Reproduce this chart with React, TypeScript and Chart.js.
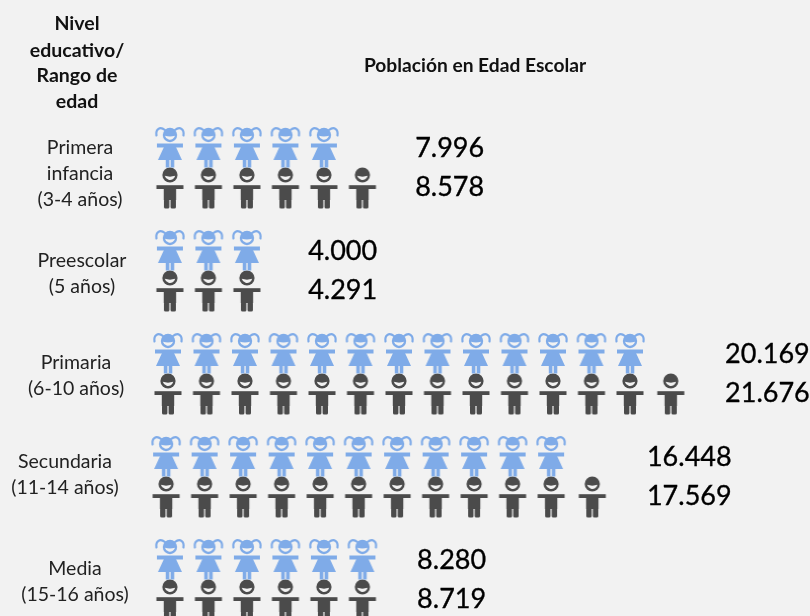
import React, { useEffect, useRef } from "react";
import { Chart, registerables } from "chart.js";

Chart.register(...registerables);

const categories = [
  ["Primera", "infancia", "(3-4 años)"],
  ["Preescolar", "(5 años)"],
  ["Primaria", "(6-10 años)"],
  ["Secundaria", "(11-14 años)"],
  ["Media", "(15-16 años)"],
];
const girls = [7996, 4000, 20169, 16448, 8280];
const boys = [8578, 4291, 21676, 17569, 8719];
const girlLabels = ["7.996", "4.000", "20.169", "16.448", "8.280"];
const boyLabels = ["8.578", "4.291", "21.676", "17.569", "8.719"];
const peoplePerIcon = 1500;

const headerLines = ["Nivel", "educativo/", "Rango de", "edad"];
const chartTitle = "Población en Edad Escolar";

// layout, in scale units
const rowShift = [0.05, 0.05, 0, -0.05, 0.05];
const lastBoyGap = [0, 0, 0.06, 0.07, 0];
const labelColumn = [6.42, 3.64, 14.47, 12.44, 6.47];
const boyRowOffset = 0.398;
const iconStep = 38.5;
const rowStep = 103;
const categoryCenters = [80, 82, 76, 65, 75];
const categoryFirstLine = [148, 261, 363, 462, 569];

const GIRL = "#7fabe8";
const BOY = "#4b4b4b";
const BG = "#f2f2f2";
const FONT = "Lato, Carlito, sans-serif";

function smile(g: CanvasRenderingContext2D, cy: number, r: number) {
  g.fillStyle = BG;
  g.beginPath();
  g.arc(0, cy, r, 0.25, Math.PI - 0.25);
  g.quadraticCurveTo(0, cy + r * 0.55, r * Math.cos(0.25), cy + r * Math.sin(0.25));
  g.closePath();
  g.fill();
}

function girlIcon() {
  const c = document.createElement("canvas");
  c.width = 34;
  c.height = 44;
  const g = c.getContext("2d")!;
  g.translate(17, 22);
  g.fillStyle = GIRL;
  g.strokeStyle = GIRL;
  // head
  g.beginPath();
  g.arc(0, -12, 7.2, 0, Math.PI * 2);
  g.fill();
  // pigtails
  g.lineWidth = 2.2;
  g.lineCap = "round";
  g.beginPath();
  g.moveTo(-5, -17);
  g.bezierCurveTo(-10, -21, -14.5, -18, -13.5, -11.5);
  g.moveTo(5, -17);
  g.bezierCurveTo(10, -21, 14.5, -18, 13.5, -11.5);
  g.stroke();
  smile(g, -12.5, 5.2);
  g.fillStyle = GIRL;
  // arms
  g.fillRect(-13, -3.5, 26, 4);
  // dress
  g.beginPath();
  g.moveTo(-6, 0);
  g.lineTo(6, 0);
  g.lineTo(12, 13);
  g.lineTo(-12, 13);
  g.closePath();
  g.fill();
  // legs
  g.fillRect(-4.2, 13, 3.6, 7.5);
  g.fillRect(0.7, 13, 3.6, 7.5);
  return c;
}

function boyIcon() {
  const c = document.createElement("canvas");
  c.width = 34;
  c.height = 46;
  const g = c.getContext("2d")!;
  g.translate(17, 23);
  g.fillStyle = BOY;
  // head
  g.beginPath();
  g.arc(0, -13, 7.6, 0, Math.PI * 2);
  g.fill();
  smile(g, -13.5, 5.4);
  g.fillStyle = BOY;
  // arms
  g.fillRect(-13.5, -2.8, 27, 3.8);
  // torso
  g.fillRect(-6.2, 0, 12.4, 12);
  // legs
  g.beginPath();
  g.roundRect(-6, 11, 5.4, 9.5, 1.5);
  g.roundRect(0.6, 11, 5.4, 9.5, 1.5);
  g.fill();
  return c;
}

function iconPoints(values: number[], isBoy: boolean) {
  const pts: { x: number; y: number }[] = [];
  values.forEach((v, row) => {
    const n = Math.round(v / peoplePerIcon);
    for (let i = 0; i < n; i++) {
      const extra = isBoy && i === n - 1 ? lastBoyGap[row] : 0;
      pts.push({ x: i + rowShift[row] + extra, y: row + (isBoy ? boyRowOffset : 0) });
    }
  });
  return pts;
}

const textPlugin = {
  id: "isotypeText",
  afterDatasetsDraw(chart: any) {
    const { ctx, scales } = chart;
    const { x, y } = scales;
    ctx.save();
    ctx.textBaseline = "middle";
    ctx.textAlign = "center";
    ctx.fillStyle = "#111";
    ctx.font = `bold 19.5px ${FONT}`;
    headerLines.forEach((t, i) => ctx.fillText(t, 77, [24, 51, 76, 102][i]));
    ctx.font = `bold 19.2px ${FONT}`;
    ctx.fillText(chartTitle, 475, 66);

    ctx.font = `19.5px ${FONT}`;
    ctx.fillStyle = "#222";
    categories.forEach((lines, r) => {
      lines.forEach((t, i) => ctx.fillText(t, categoryCenters[r], categoryFirstLine[r] + i * 25.7));
    });

    ctx.textAlign = "left";
    ctx.fillStyle = "#000";
    ctx.strokeStyle = "#000";
    ctx.lineWidth = 0.35;
    ctx.font = `27px ${FONT}`;
    const put = (t: string, px: number, py: number) => {
      ctx.fillText(t, px, py);
      ctx.strokeText(t, px, py);
    };
    labelColumn.forEach((col, r) => {
      const px = x.getPixelForValue(col);
      put(girlLabels[r], px, y.getPixelForValue(r) + 1);
      put(boyLabels[r], px, y.getPixelForValue(r + boyRowOffset) - 1);
    });
    ctx.restore();
  },
};

export default function App() {
  const ref = useRef<HTMLCanvasElement>(null);
  useEffect(() => {
    document.body.style.margin = "0";
    document.body.style.background = BG;
    const chart = new Chart(ref.current!, {
      type: "scatter",
      data: {
        datasets: [
          {
            label: "Niñas",
            data: iconPoints(girls, false),
            pointStyle: girlIcon() as any,
            pointRadius: 17,
            showLine: false,
            clip: false,
          },
          {
            label: "Niños",
            data: iconPoints(boys, true),
            pointStyle: boyIcon() as any,
            pointRadius: 17,
            showLine: false,
            clip: false,
          },
        ],
      },
      options: {
        responsive: false,
        animation: false,
        layout: { padding: 0, autoPadding: false },
        plugins: { legend: { display: false }, tooltip: { enabled: false }, title: { display: false } },
        scales: {
          x: { type: "linear", display: false, min: -168 / iconStep, max: (810 - 168) / iconStep },
          y: { type: "linear", display: false, reverse: true, min: -147 / rowStep, max: (616 - 147) / rowStep },
        },
      },
      plugins: [textPlugin],
    });
    return () => chart.destroy();
  }, []);
  return (
    <canvas
      ref={ref}
      width={810}
      height={616}
      style={{ display: "block", width: 810, height: 616, background: BG, filter: "blur(0.5px)" }}
    />
  );
}
